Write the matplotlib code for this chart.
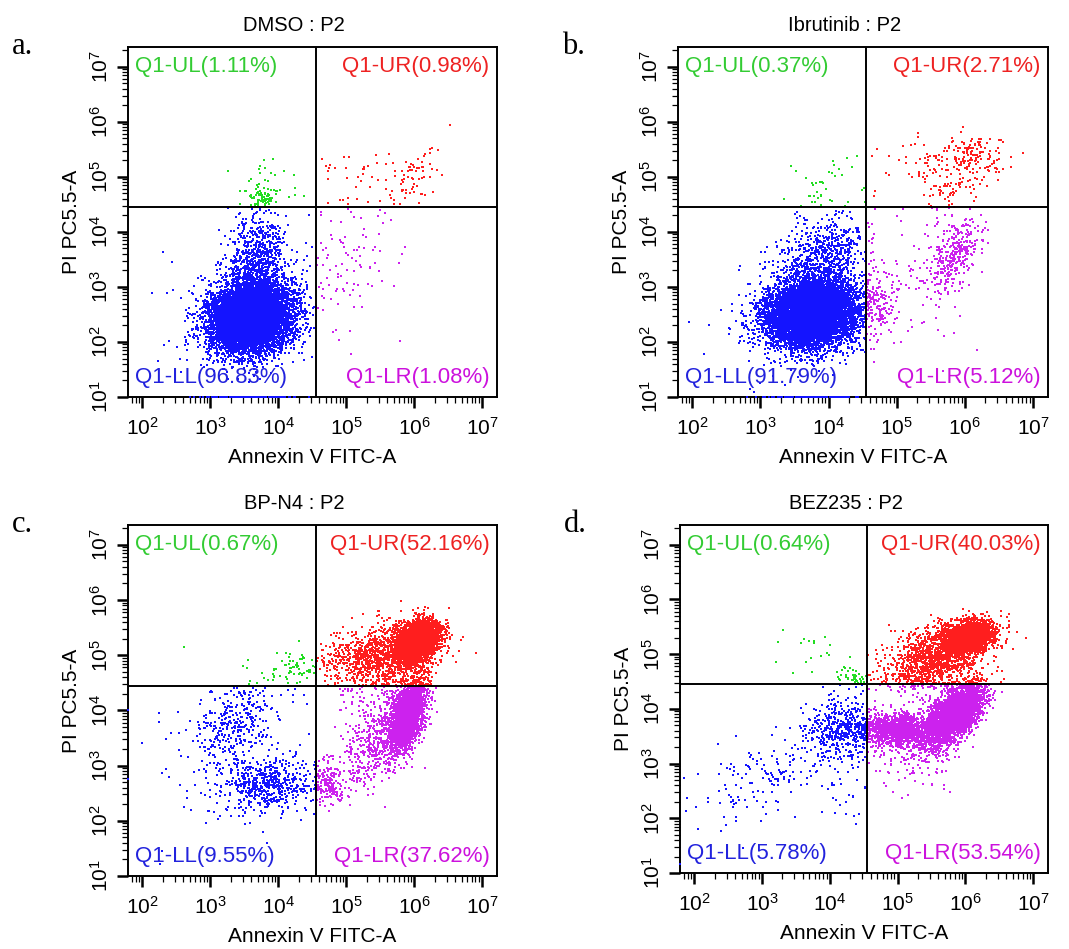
import numpy as np
import matplotlib
matplotlib.use('Agg')
import matplotlib.pyplot as plt
from matplotlib.ticker import LogLocator, NullFormatter

plt.rcParams['font.family'] = ['Liberation Sans', 'DejaVu Sans']

# ---- data ----
panel_letters = ['a.', 'b.', 'c.', 'd.']
sample_names = ['DMSO', 'Ibrutinib', 'BP-N4', 'BEZ235']
gate_name = 'P2'
quadrant_names = ['Q1-UL', 'Q1-UR', 'Q1-LL', 'Q1-LR']

# quadrant percentages (UL, UR, LL, LR)
pct_dmso = [1.11, 0.98, 96.83, 1.08]
pct_ibrutinib = [0.37, 2.71, 91.79, 5.12]
pct_bpn4 = [0.67, 52.16, 9.55, 37.62]
pct_bez235 = [0.64, 40.03, 5.78, 53.54]

x_label = 'Annexin V FITC-A'
y_label = 'PI PC5.5-A'

# quadrant gate position (log10)
gate_x_log = 4.55
gate_y_log = 4.45

# event clouds estimated from each plot:
# log10 centre x, log10 centre y, spread x, spread y, correlation, events
clouds_dmso = [
    (3.60, 2.45, 0.30, 0.32, 0.1, 8200),
    (3.70, 3.50, 0.22, 0.40, 0.0, 700),
    (3.50, 2.60, 0.60, 0.60, 0.0, 150),
    (3.60, 1.00, 0.35, 0.00, 0.0, 120),
    (3.75, 4.60, 0.12, 0.12, 0.0, 80),
    (3.90, 4.90, 0.30, 0.30, 0.0, 30),
    (6.00, 5.00, 0.20, 0.30, 0.6, 60),
    (5.40, 4.90, 0.45, 0.30, 0.0, 40),
    (5.00, 3.50, 0.40, 0.55, 0.0, 100),
]
clouds_ibrutinib = [
    (3.75, 2.50, 0.33, 0.30, 0.1, 7800),
    (3.90, 3.40, 0.30, 0.45, 0.2, 900),
    (3.60, 2.50, 0.60, 0.60, 0.0, 150),
    (3.80, 1.00, 0.35, 0.00, 0.0, 100),
    (4.00, 4.80, 0.30, 0.25, 0.0, 37),
    (6.10, 5.35, 0.25, 0.18, 0.0, 150),
    (5.80, 4.80, 0.20, 0.25, 0.4, 70),
    (5.40, 5.20, 0.40, 0.30, 0.0, 50),
    (5.85, 3.60, 0.20, 0.35, 0.5, 330),
    (4.75, 2.75, 0.15, 0.30, 0.0, 110),
    (5.30, 3.00, 0.45, 0.60, 0.0, 70),
]
clouds_bpn4 = [
    (3.85, 2.65, 0.35, 0.25, 0.0, 520),
    (3.35, 3.75, 0.30, 0.35, 0.3, 300),
    (3.30, 3.00, 0.60, 0.70, 0.0, 130),
    (4.10, 4.70, 0.30, 0.20, 0.3, 67),
    (6.05, 5.25, 0.15, 0.17, 0.3, 3900),
    (5.55, 5.00, 0.40, 0.30, 0.3, 1300),
    (5.90, 3.90, 0.13, 0.30, 0.5, 3000),
    (5.50, 3.50, 0.30, 0.45, 0.5, 600),
    (4.75, 2.65, 0.12, 0.20, 0.0, 160),
]
clouds_bez235 = [
    (4.15, 3.60, 0.25, 0.28, 0.0, 380),
    (3.10, 2.80, 0.60, 0.50, 0.6, 170),
    (4.30, 2.70, 0.20, 0.30, 0.0, 30),
    (4.35, 4.60, 0.15, 0.12, 0.0, 45),
    (4.00, 5.00, 0.40, 0.35, 0.0, 19),
    (6.05, 5.30, 0.18, 0.14, 0.2, 2700),
    (5.55, 4.90, 0.35, 0.30, 0.3, 1300),
    (5.85, 3.90, 0.20, 0.26, 0.6, 3700),
    (5.00, 3.62, 0.30, 0.15, 0.0, 1350),
    (5.35, 3.30, 0.35, 0.35, 0.0, 220),
]

all_pct = [pct_dmso, pct_ibrutinib, pct_bpn4, pct_bez235]
all_clouds = [clouds_dmso, clouds_ibrutinib, clouds_bpn4, clouds_bez235]

# ---- styling ----
dot_colors = ['#22dd22', '#ff1e1e', '#1414ff', '#cc22ee']   # UL, UR, LL, LR
text_colors = ['#33cc33', '#ee2222', '#2222dd', '#cc11dd']
xlim_log = (1.79, 7.22)
ylim_log = (1.0, 7.36)

W, H = 1069, 949
# axes boxes in pixels: left, top, right, bottom
boxes = [(128, 47, 497, 397), (678, 47, 1048, 397),
         (128, 525, 497, 876), (680, 525, 1048, 873)]

rng = np.random.default_rng(7)

fig = plt.figure(figsize=(W / 100, H / 100), dpi=100)


def events_from_clouds(clouds):
    xs, ys = [], []
    for mx, my, sx, sy, rho, n in clouds:
        cov = [[sx * sx, rho * sx * sy], [rho * sx * sy, sy * sy]]
        pts = rng.multivariate_normal([mx, my], cov, size=n)
        xs.append(pts[:, 0])
        ys.append(pts[:, 1])
    x = np.clip(np.concatenate(xs), xlim_log[0], xlim_log[1])
    y = np.clip(np.concatenate(ys), ylim_log[0], ylim_log[1])
    return x, y


for i in range(4):
    l, t, r, b = boxes[i]
    ax = fig.add_axes([l / W, 1 - b / H, (r - l) / W, (b - t) / H])

    lx, ly = events_from_clouds(all_clouds[i])
    upper = ly >= gate_y_log
    right = lx >= gate_x_log
    quad = np.where(upper, np.where(right, 1, 0), np.where(right, 3, 2))
    for q in [2, 3, 0, 1]:
        m = quad == q
        # events piled on the axis are drawn over the spine, as in the cytometer export
        ax.scatter(10 ** lx[m], 10 ** ly[m], s=2.2, marker='s',
                   c=dot_colors[q], linewidths=0, zorder=2.6, clip_on=False)

    ax.set_xscale('log')
    ax.set_yscale('log')
    ax.set_xlim(10 ** xlim_log[0], 10 ** xlim_log[1])
    ax.set_ylim(10 ** ylim_log[0], 10 ** ylim_log[1])

    ax.axvline(10 ** gate_x_log, color='black', lw=1.4, zorder=3)
    ax.axhline(10 ** gate_y_log, color='black', lw=1.4, zorder=3)

    for sp in ax.spines.values():
        sp.set_linewidth(1.4)

    for axis in [ax.xaxis, ax.yaxis]:
        axis.set_major_locator(LogLocator(base=10, numticks=10))
        axis.set_minor_locator(LogLocator(base=10, subs=np.arange(2, 10), numticks=20))
        axis.set_minor_formatter(NullFormatter())
    ax.tick_params(which='major', direction='out', length=8, width=1.8,
                   labelsize=15, pad=6, colors='black')
    ax.tick_params(which='minor', direction='out', length=4.5, width=0.9)
    ax.tick_params(axis='y', labelrotation=90, pad=4)
    for lab in ax.get_yticklabels():
        lab.set_verticalalignment('center')

    ax.set_xlabel(x_label, fontsize=15, labelpad=7)
    ax.set_ylabel(y_label, fontsize=15, labelpad=6)
    ax.text(0.45, 1.035, sample_names[i] + ' : ' + gate_name, transform=ax.transAxes,
            ha='center', va='bottom', fontsize=14.5)

    # panel letter
    fig.text((l - 116) / W, 1 - (t + 7) / H, panel_letters[i],
             family=['Liberation Serif', 'DejaVu Serif'], fontsize=22,
             ha='left', va='baseline')

    pct = all_pct[i]
    labs = [quadrant_names[k] + '(%.2f%%)' % pct[k] for k in range(4)]
    fs = 16
    ax.text(0.02, 0.975, labs[0], color=text_colors[0], transform=ax.transAxes,
            ha='left', va='top', fontsize=fs, zorder=4)
    ax.text(0.98, 0.975, labs[1], color=text_colors[1], transform=ax.transAxes,
            ha='right', va='top', fontsize=fs, zorder=4)
    ax.text(0.02, 0.025, labs[2], color=text_colors[2], transform=ax.transAxes,
            ha='left', va='bottom', fontsize=fs, zorder=4)
    ax.text(0.98, 0.025, labs[3], color=text_colors[3], transform=ax.transAxes,
            ha='right', va='bottom', fontsize=fs, zorder=4)

fig.savefig('out.png', dpi=100)
